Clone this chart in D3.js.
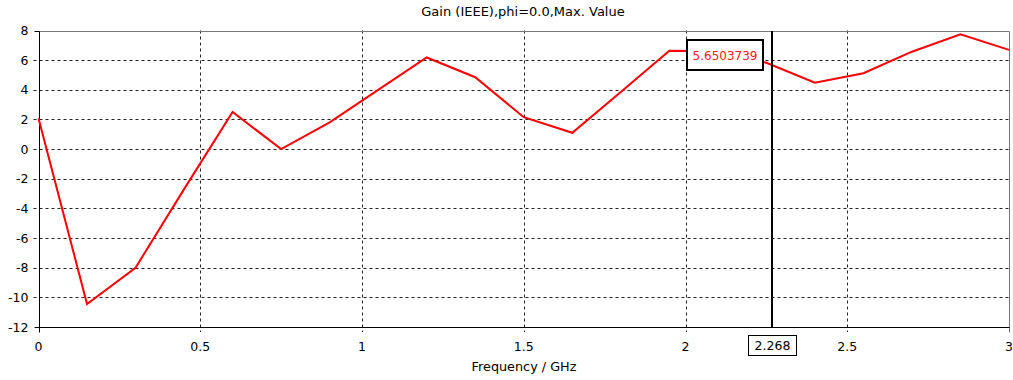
<!DOCTYPE html>
<html>
<head>
<meta charset="utf-8">
<script src="https://cdn.jsdelivr.net/npm/d3@7"></script>
<style>
  body { margin: 0; background: #fff; }
  text { font-family: "DejaVu Sans", sans-serif; }
</style>
</head>
<body>
<div id="chart"></div>
<script>
const width = 1013;
const height = 380;
const margin = {'top': 30.5, 'bottom': 53, 'left': 38.5, 'right': 4};

// data
const freqs = [0, 0.15, 0.3, 0.45, 0.6, 0.75, 0.9, 1.05, 1.2, 1.35, 1.5, 1.65, 1.8, 1.95, 2.1, 2.25, 2.4, 2.55, 2.7, 2.85, 3.0];
const gains = [2.08, -10.45, -8.0, -2.7, 2.5, 0.0, 1.8, 4.0, 6.18, 4.85, 2.15, 1.1, 3.85, 6.63, 6.6, 5.82, 4.48, 5.12, 6.57, 7.74, 6.69];
const xTicks = [0, 0.5, 1, 1.5, 2, 2.5, 3];
const yTicks = [-12, -10, -8, -6, -4, -2, 0, 2, 4, 6, 8];
const cursorFreq = 2.268;
const cursorLabel = '2.268';
const markerLabel = '5.6503739';

const title = 'Gain (IEEE),phi=0.0,Max. Value';
const xTitle = 'Frequency / GHz';

const svg = d3.select('#chart')
    .append('svg')
    .attr('width', width)
    .attr('height', height);

const x = d3.scaleLinear()
    .domain([0, 3])
    .range([margin.left, width - margin.right]);

const y = d3.scaleLinear()
    .domain([-12, 8])
    .range([height - margin.bottom, margin.top]);

const data = freqs.map((f, i) => ({f: f, g: gains[i]}));

// grid lines
svg.append('g')
    .selectAll('line')
    .data(yTicks.filter(d => d > -12 && d < 8))
    .join('line')
    .attr('x1', margin.left - 5)
    .attr('x2', width - margin.right)
    .attr('y1', d => Math.round(y(d)) + 0.5)
    .attr('y2', d => Math.round(y(d)) + 0.5)
    .attr('stroke', '#222')
    .attr('stroke-dasharray', '3,3');

svg.append('g')
    .selectAll('line')
    .data(xTicks.filter(d => d > 0 && d < 3))
    .join('line')
    .attr('x1', d => Math.round(x(d)) + 0.5)
    .attr('x2', d => Math.round(x(d)) + 0.5)
    .attr('y1', margin.top)
    .attr('y2', height - margin.bottom + 5)
    .attr('stroke', '#222')
    .attr('stroke-dasharray', '3,3');

// frame: top/right grey, left/bottom black
const x0 = Math.round(x(0)) + 0.5, x1 = Math.round(x(3)) + 0.5;
const yTop = Math.round(y(8)) + 0.5, yBot = Math.round(y(-12)) + 0.5;
svg.append('line').attr('x1', x0).attr('x2', x1).attr('y1', yTop).attr('y2', yTop).attr('stroke', '#777');
svg.append('line').attr('x1', x1).attr('x2', x1).attr('y1', yTop).attr('y2', yBot + 5).attr('stroke', '#777');
svg.append('line').attr('x1', x0).attr('x2', x0).attr('y1', yTop).attr('y2', yBot + 5).attr('stroke', '#000');
svg.append('line').attr('x1', x0 - 5).attr('x2', x1).attr('y1', yBot).attr('y2', yBot).attr('stroke', '#000');

// edge ticks
svg.append('line').attr('x1', x0 - 5).attr('x2', x0).attr('y1', yTop).attr('y2', yTop).attr('stroke', '#000');

// tick labels
svg.append('g')
    .selectAll('text')
    .data(yTicks)
    .join('text')
    .attr('x', margin.left - 10)
    .attr('y', d => y(d) + 4.5)
    .attr('text-anchor', 'end')
    .attr('font-size', 12.5)
    .attr('fill', '#000')
    .text(d => d);

svg.append('g')
    .selectAll('text')
    .data(xTicks)
    .join('text')
    .attr('x', d => x(d))
    .attr('y', height - margin.bottom + 24)
    .attr('text-anchor', d => d === 3 ? 'end' : 'middle')
    .attr('dx', d => d === 3 ? 4 : 0)
    .attr('font-size', 12.5)
    .attr('fill', '#000')
    .text(d => d);

// data line
svg.append('path')
    .datum(data)
    .attr('fill', 'none')
    .attr('stroke', '#ff0000')
    .attr('stroke-width', 2)
    .attr('stroke-linejoin', 'miter')
    .attr('d', d3.line()
        .x(d => x(d.f))
        .y(d => y(d.g)));

// cursor line
const cx = Math.round(x(cursorFreq));
svg.append('line')
    .attr('x1', cx).attr('x2', cx)
    .attr('y1', yTop - 0.5).attr('y2', yBot)
    .attr('stroke', '#000')
    .attr('stroke-width', 2);

// cursor value box at bottom
svg.append('rect')
    .attr('x', cx - 23.5).attr('y', 335.5)
    .attr('width', 48).attr('height', 20)
    .attr('fill', '#fff').attr('stroke', '#000');
svg.append('text')
    .attr('x', cx + 0.5).attr('y', 350)
    .attr('text-anchor', 'middle')
    .attr('font-size', 12.5)
    .text(cursorLabel);

// marker value box
svg.append('rect')
    .attr('x', 687).attr('y', 40)
    .attr('width', 76).attr('height', 30)
    .attr('fill', '#fff').attr('stroke', '#000').attr('stroke-width', 2);
svg.append('text')
    .attr('x', 725).attr('y', 59.5)
    .attr('text-anchor', 'middle')
    .attr('font-size', 12)
    .attr('fill', '#ff2020')
    .text(markerLabel);

// titles
svg.append('text')
    .attr('x', 523).attr('y', 16)
    .attr('text-anchor', 'middle')
    .attr('font-size', 13)
    .text(title);

svg.append('text')
    .attr('x', 524).attr('y', 371)
    .attr('text-anchor', 'middle')
    .attr('font-size', 12.8)
    .text(xTitle);
</script>
</body>
</html>
